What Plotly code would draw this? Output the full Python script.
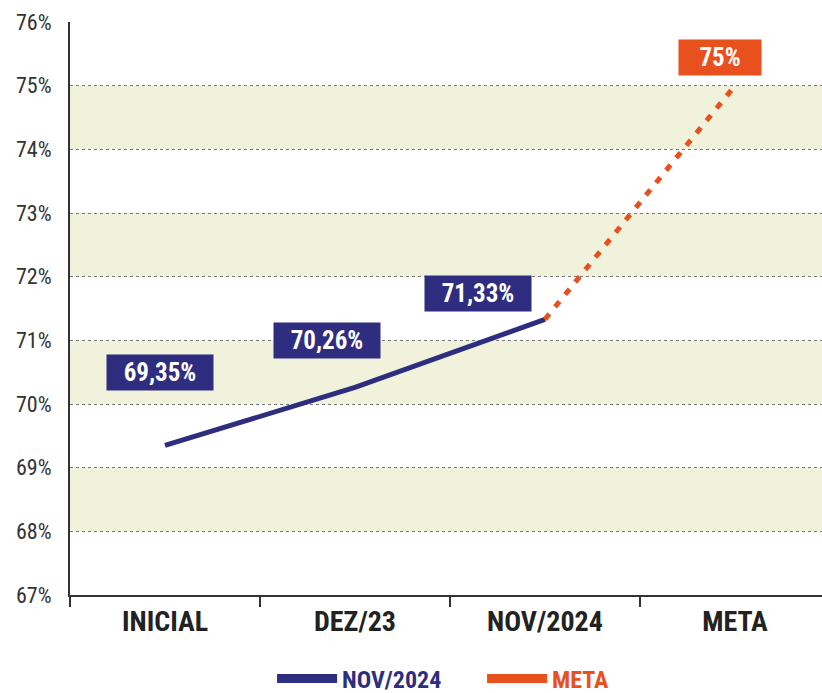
import plotly.graph_objects as go

categories = ["INICIAL", "DEZ/23", "NOV/2024", "META"]
realizado = [69.35, 70.26, 71.33, None]
meta = [None, None, 71.33, 75.0]
labels_realizado = ["69,35%", "70,26%", "71,33%"]
label_meta = "75%"
y_ticks = list(range(67, 77))
bands = [(68, 69), (70, 71), (72, 73), (74, 75)]

NAVY = "#2e2d7f"
ORANGE = "#e8501e"
FONT = "Roboto Condensed, Liberation Sans Narrow, DejaVu Sans Condensed, Open Sans Condensed, Noto Sans Condensed, Liberation Sans, sans-serif"

fig = go.Figure()

fig.add_trace(go.Scatter(
    x=categories, y=realizado, mode="lines",
    line=dict(color=NAVY, width=5), showlegend=False, hoverinfo="skip",
))
fig.add_trace(go.Scatter(
    x=categories, y=meta, mode="lines",
    line=dict(color=ORANGE, width=5, dash="7px,9px"), showlegend=False, hoverinfo="skip",
))

# legend entries (solid swatches)
fig.add_trace(go.Scatter(
    x=[None], y=[None], mode="lines", line=dict(color=NAVY, width=9),
    name=f"<span style='color:{NAVY}'><b>NOV/2024</b></span>",
))
fig.add_trace(go.Scatter(
    x=[None], y=[None], mode="lines", line=dict(color=ORANGE, width=9),
    name=f"<span style='color:{ORANGE}'><b>META</b></span>",
))

for y0, y1 in bands:
    fig.add_shape(type="rect", xref="paper", yref="y", x0=0, x1=1, y0=y0, y1=y1,
                  fillcolor="#f0f2dc", line_width=0, layer="below")

shifts = [(-5, 73), (-28, 47), (-67, 26)]
for cat, val, txt, (dx, dy) in zip(categories, realizado, labels_realizado, shifts):
    fig.add_annotation(
        x=cat, y=val, text=f"<b>{txt}</b>", showarrow=False,
        xshift=dx, yshift=dy, bgcolor=NAVY, borderpad=5, width=96, height=25,
        font=dict(family=FONT, size=25, color="white"),
    )
fig.add_annotation(
    x=categories[3], y=meta[3], text=f"<b>{label_meta}</b>", showarrow=False,
    xshift=-15, yshift=28, bgcolor=ORANGE, borderpad=5, width=72, height=25,
    font=dict(family=FONT, size=25, color="white"),
)

fig.update_xaxes(
    range=[-0.5, 3.458], showgrid=False, showline=True, linecolor="#333", linewidth=2,
    ticks="outside", ticklen=10, tickcolor="#333", tickwidth=1.5,
    tickson="boundaries", automargin=False,
    tickfont=dict(family=FONT, size=28, color="#222"),
    tickprefix="<b>", ticksuffix="</b>",
)
fig.update_yaxes(
    range=[67, 76], tickvals=y_ticks, ticktext=[f"{v}%" for v in y_ticks],
    showgrid=True, gridcolor="#777", griddash="dot", gridwidth=1.2,
    showline=True, linecolor="#333", linewidth=2, zeroline=False, automargin=False,
    tickfont=dict(family=FONT, size=22, color="#333"), ticklabelstandoff=12,
)

fig.update_layout(
    width=822, height=693,
    paper_bgcolor="white", plot_bgcolor="white",
    margin=dict(l=70, r=0, t=22, b=98),
    showlegend=True,
    legend=dict(orientation="h", xref="container", yref="container",
                x=0.331, xanchor="left", y=0.0202, yanchor="middle",
                font=dict(family=FONT, size=24),
                entrywidth=135, itemwidth=60),
)

fig.write_html("out.html", config={"displayModeBar": False},
               post_script="document.body.style.margin='0';")
